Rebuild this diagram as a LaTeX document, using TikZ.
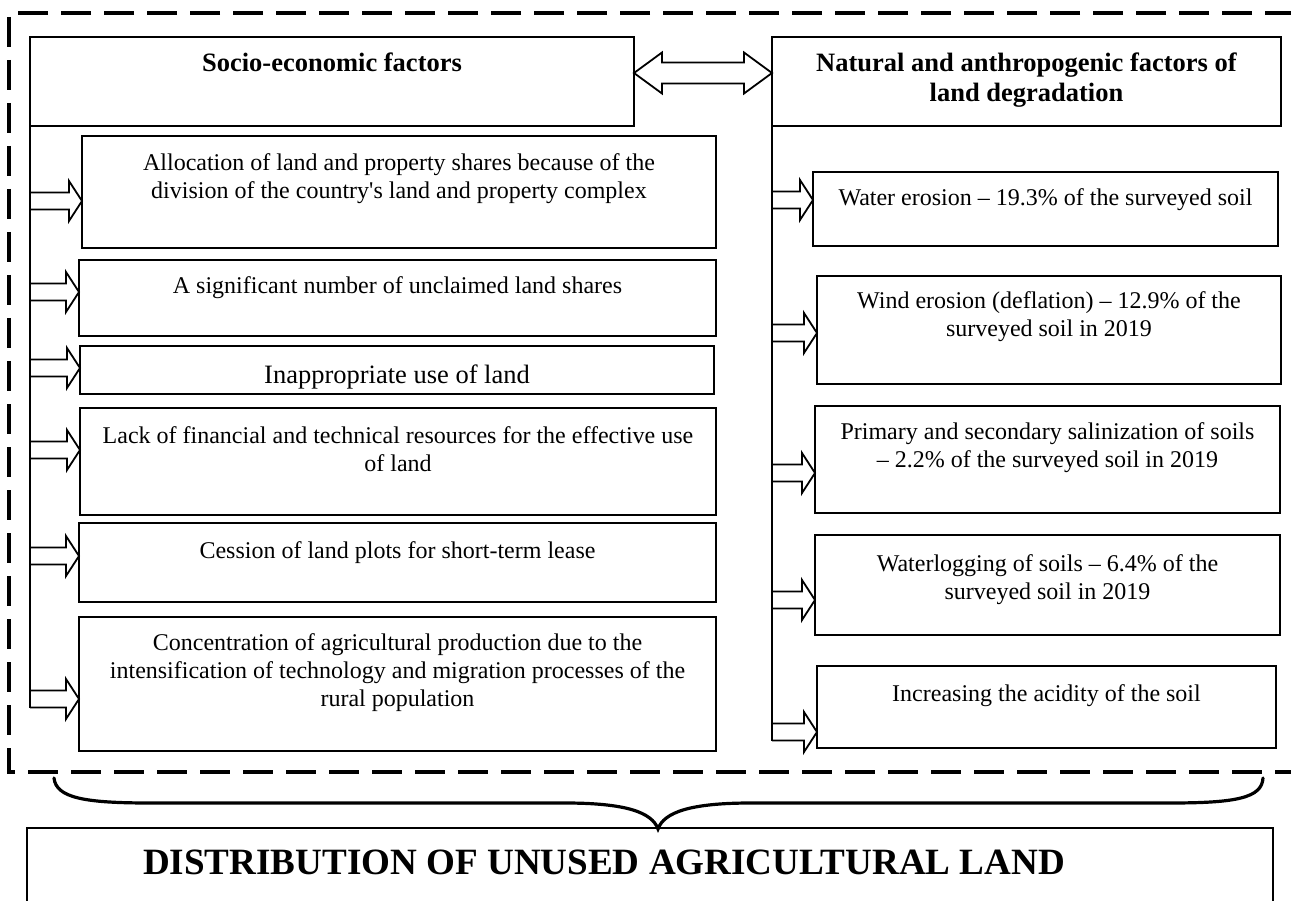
\documentclass[tikz,border=0pt]{standalone}
\usepackage{fontspec}
\setmainfont{Liberation Serif}[Ligatures=TeXOff]
\usetikzlibrary{calc}
\tikzset{
  box/.style={draw, line width=1.8pt, inner sep=0pt, outer sep=0pt, anchor=north west},
  txt/.style={inner sep=0pt, outer sep=0pt, anchor=base, font=\fontsize{24}{28}\selectfont},
  bigtxt/.style={txt, font=\fontsize{26.5}{30}\selectfont},
  hdr/.style={txt, font=\fontsize{26.5}{30}\selectfont\bfseries},
  title/.style={inner sep=0pt, outer sep=0pt, anchor=base west, font=\fontsize{37.1}{42}\selectfont\bfseries},
  blockarr/.style={draw, line width=1.8pt, line join=miter},
  conn/.style={line width=2.2pt},
  frame/.style={line width=3.5pt, dash pattern=on 30pt off 13pt},
  bracestyle/.style={line width=3.2pt, line cap=round},
}
\newcommand{\tb}[1]{\begin{tabular}[t]{@{}c@{}}#1\end{tabular}}
\newcommand{\blockarrow}[2]{%
  \draw[blockarr] let \p1=(#1), \p2=(#2.west |- #1) in
    (\x1,\y1+8.5pt) -- (\x2-13pt,\y1+8.5pt) -- (\x2-13pt,\y1+20pt) -- (\x2,\y1)
    -- (\x2-13pt,\y1-20pt) -- (\x2-13pt,\y1-8.5pt) -- (\x1,\y1-8.5pt);}
\newcommand{\dblarrow}[2]{%
  \draw[blockarr] let \p1=(#1), \p2=(#2) in
   (\x1,\y1) -- (\x1+28pt,\y1+20.5pt) -- (\x1+28pt,\y1+10.5pt) -- (\x2-28pt,\y1+10.5pt)
   -- (\x2-28pt,\y1+20.5pt) -- (\x2,\y1) -- (\x2-28pt,\y1-20.5pt) -- (\x2-28pt,\y1-10.5pt)
   -- (\x1+28pt,\y1-10.5pt) -- (\x1+28pt,\y1-20.5pt) -- cycle;}
\begin{document}
\begin{tikzpicture}[x=1pt, y=-1pt]
\useasboundingbox (0,0) rectangle (1291,901);
% dashed frame
\draw[frame] (1295,13) -- (9,13) -- (9,772) -- (1295,772);
% headers
\node[box, minimum width=604pt, minimum height=89pt] (lh) at (30,37) {};
\node[box, minimum width=509pt, minimum height=89pt] (rh) at (772,37) {};
\node[hdr] (tlh) at (lh.north |- 0,72) {Socio-economic factors};
\node[hdr] (trh) at (rh.north |- 0,72) {\tb{Natural and anthropogenic factors of\\land degradation}};
% left boxes
\node[box, minimum width=634pt, minimum height=112pt] (b1) at (82,136) {};
\node[box, minimum width=637pt, minimum height=76pt] (b2) at (79,260) {};
\node[box, minimum width=634pt, minimum height=48pt] (b3) at (80,346) {};
\node[box, minimum width=636pt, minimum height=107pt] (b4) at (80,408) {};
\node[box, minimum width=637pt, minimum height=79pt] (b5) at (79,523) {};
\node[box, minimum width=637pt, minimum height=134pt] (b6) at (79,617) {};
\node[txt] (t1) at (b1.north |- 0,171) {\tb{Allocation of land and property shares because of the\\division of the country's land and property complex}};
\node[txt] (t2) at (b2.north |- 0,294) {A significant number of unclaimed land shares};
\node[bigtxt] (t3) at (b3.north |- 0,384) {Inappropriate use of land};
\node[txt] (t4) at (b4.north |- 0,443) {\tb{Lack of financial and technical resources for the effective use\\of land}};
\node[txt] (t5) at (b5.north |- 0,558) {Cession of land plots for short-term lease};
\node[txt] (t6) at (b6.north |- 0,650) {\tb{Concentration of agricultural production due to the\\intensification of technology and migration processes of the\\rural population}};
% right boxes
\node[box, minimum width=465pt, minimum height=74pt] (r1) at (813,172) {};
\node[box, minimum width=464pt, minimum height=108pt] (r2) at (817,276) {};
\node[box, minimum width=465pt, minimum height=107pt] (r3) at (815,406) {};
\node[box, minimum width=465pt, minimum height=100pt] (r4) at (815,535) {};
\node[box, minimum width=459pt, minimum height=82pt] (r5) at (817,666) {};
\node[txt] (s1) at (r1.north |- 0,206) {Water erosion – 19.3\% of the surveyed soil};
\node[txt] (s2) at (r2.north |- 0,309) {\tb{Wind erosion (deflation) – 12.9\% of the\\surveyed soil in 2019}};
\node[txt] (s3) at (r3.north |- 0,439) {\tb{Primary and secondary salinization of soils\\– 2.2\% of the surveyed soil in 2019}};
\node[txt] (s4) at (r4.north |- 0,571) {\tb{Waterlogging of soils – 6.4\% of the\\surveyed soil in 2019}};
\node[txt] (s5) at (r5.north |- 0,701) {Increasing the acidity of the soil};
% vertical connector lines
\coordinate (Lend) at (30,708);
\coordinate (Rend) at (772,741);
\draw[conn] (lh.south west) -- (Lend);
\draw[conn] (rh.south west) -- (Rend);
% arrow start points
\coordinate (La1) at (30,201);
\coordinate (La2) at (30,292);
\coordinate (La3) at (30,368);
\coordinate (La4) at (30,450);
\coordinate (La5) at (30,556);
\coordinate (La6) at (30,699);
\coordinate (Ra1) at (772,200);
\coordinate (Ra2) at (772,333);
\coordinate (Ra3) at (772,473);
\coordinate (Ra4) at (772,600);
\coordinate (Ra5) at (772,732);
\blockarrow{La1}{b1}
\blockarrow{La2}{b2}
\blockarrow{La3}{b3}
\blockarrow{La4}{b4}
\blockarrow{La5}{b5}
\blockarrow{La6}{b6}
\blockarrow{Ra1}{r1}
\blockarrow{Ra2}{r2}
\blockarrow{Ra3}{r3}
\blockarrow{Ra4}{r4}
\blockarrow{Ra5}{r5}
% double arrow between headers
\coordinate (da1) at (lh.east |- 0,73);
\coordinate (da2) at (rh.west |- 0,73);
\dblarrow{da1}{da2}
% bottom box
\node[box, minimum width=1246pt, minimum height=120pt] (bot) at (27,828) {};
\node[title] (tbot) at (143,874) {DISTRIBUTION OF UNUSED AGRICULTURAL LAND};
% brace
\coordinate (brL) at (54,778);
\coordinate (brM) at (658,829);
\coordinate (brR) at (1263,778);
\draw[bracestyle] (brL) .. controls (56,798) and (85,803) .. (150,803) -- (565,803)
  .. controls (625,803) and (652,812) .. (brM)
  .. controls (664,812) and (691,803) .. (751,803) -- (1170,803)
  .. controls (1236,803) and (1262,798) .. (brR);
\end{tikzpicture}
\end{document}
